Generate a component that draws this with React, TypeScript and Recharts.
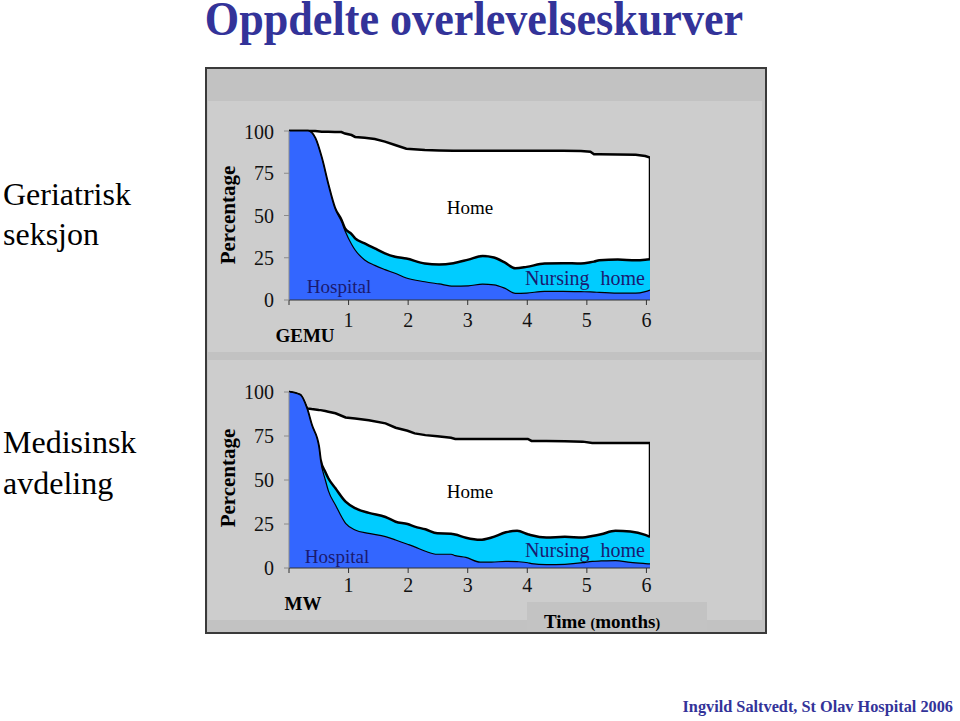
import React from 'react';
import { AreaChart, Area, XAxis, YAxis } from 'recharts';

// ---- GEMU (Geriatrisk seksjon) ----
const gemuMonths = [0, 0.32, 0.44, 0.55, 0.66, 0.77, 0.88, 0.94, 1.05, 1.11, 1.27, 1.44, 1.61, 1.78, 1.97, 2.28, 2.52, 2.76, 3.01, 3.25, 3.44, 3.62, 3.8, 3.99, 4.29, 4.6, 4.9, 5.06, 5.12, 5.21, 5.52, 5.82, 5.98, 6.06];
const gemuHospital = [100, 100, 95.7, 83.8, 68, 54.2, 46.4, 41, 33, 29.6, 23.7, 20.5, 18, 15.8, 13, 10.8, 9.5, 8.2, 8.4, 9.4, 9, 7, 3.9, 4.1, 5.1, 5.1, 4.9, 4.8, 4.7, 4.5, 4.1, 4.1, 5, 5.9];
const gemuNursingHome = [100, 100, 95.7, 83.8, 68, 54.5, 47.5, 42.4, 39, 36.5, 33.5, 30.5, 27.6, 25.6, 24.5, 21.6, 21, 21.8, 23.9, 26, 25.1, 22.2, 18.8, 19.6, 21.6, 21.8, 21.6, 22.3, 22.7, 23.5, 23.9, 23.5, 23.8, 24.1];
const gemuAlive = [100, 100, 100, 99.6, 99.6, 99.4, 99.4, 98.5, 97.6, 96.5, 96, 95.3, 93.7, 91.7, 89.5, 88.8, 88.5, 88.3, 88.3, 88.3, 88.3, 88.3, 88.3, 88.3, 88.3, 88.3, 88.2, 87.7, 86.2, 86.2, 86.1, 86, 85.2, 84.3];

// ---- MW (Medisinsk avdeling) ----
const mwMonths = [0, 0.19, 0.3, 0.38, 0.5, 0.53, 0.61, 0.66, 0.78, 0.95, 1.11, 1.34, 1.62, 1.79, 1.99, 2.11, 2.29, 2.49, 2.72, 2.79, 2.97, 3.21, 3.4, 3.64, 3.83, 4.01, 4.07, 4.32, 4.63, 4.93, 5.09, 5.24, 5.48, 5.73, 5.98, 6.06];
const mwHospital = [100, 98.3, 90.7, 81.3, 69, 61, 50, 44, 35.8, 25.4, 21.6, 19.7, 17.8, 15.9, 13.5, 12, 9.5, 7.8, 7.8, 7, 6, 3.3, 3.3, 3.8, 3.6, 3, 2.5, 1.9, 2.1, 3, 3.8, 4, 4.2, 3.2, 2.5, 2.3];
const mwNursingHome = [100, 98.3, 90.7, 81.3, 69, 61.5, 54.5, 51, 45.3, 37.7, 34, 31.3, 29, 26.3, 25, 23.5, 22, 19.7, 19.5, 19, 17.2, 16, 17.3, 20.3, 21.1, 19.2, 18.6, 17.3, 17.7, 17.3, 18.2, 19.2, 21.1, 20.7, 18.8, 17.7];
const mwAlive = [100, 98.3, 90.7, 90.3, 89.8, 89.7, 89.2, 88.8, 87.9, 85.5, 85, 84, 82.2, 79.7, 78, 76.5, 75.5, 74.8, 74, 73.3, 73.3, 73.3, 73.3, 73.3, 73.3, 73.3, 72.2, 72.2, 72, 71.8, 71, 71, 71, 71, 71, 71];

const monthTicks = [0, 1, 2, 3, 4, 5, 6];
const percentTicks = [0, 25, 50, 75, 100];

type Row = { m: number; hospital: number | null; nursing: number | null; alive: number };

function buildRows(months: number[], hosp: number[], nurs: number[], alive: number[]): Row[] {
  const rows: Row[] = months.map((m, i) => ({ m, hospital: hosp[i], nursing: nurs[i], alive: alive[i] }));
  const last = rows[rows.length - 1];
  // closing edge of the "Home" band at the end of follow-up
  rows.push({ m: last.m, hospital: null, nursing: null, alive: last.nursing as number });
  return rows;
}

const SERIF = '"Liberation Serif", "Times New Roman", serif';

const T = ({ x, y, size, children, style, align = 'center' }: any) => (
  <div
    style={{
      position: 'absolute',
      left: x,
      top: y,
      transform: align === 'center' ? 'translate(-50%,-50%)' : 'translate(0,-50%)',
      fontSize: size,
      lineHeight: 1,
      whiteSpace: 'pre',
      fontFamily: SERIF,
      color: '#000',
      ...style,
    }}
  >
    {children}
  </div>
);

function Panel({ rows, top, height, marginTop, tickMargin }: any) {
  const tickStyle = { fill: '#111', fontSize: 20, fontFamily: SERIF };
  return (
    <div style={{ position: 'absolute', left: 230, top }}>
      <AreaChart width={430} height={height} data={rows} margin={{ top: marginTop, right: 10, bottom: 5, left: 0 }}>
        <XAxis
          dataKey="m"
          type="number"
          domain={[0, 6.06]}
          ticks={monthTicks}
          tickFormatter={(v: number) => (v === 0 ? '' : String(v))}
          allowDataOverflow
          stroke="#333"
          tick={tickStyle}
          tickSize={5}
          tickMargin={tickMargin}
          height={30}
        />
        <YAxis
          type="number"
          domain={[0, 100]}
          ticks={percentTicks}
          width={59}
          tickSize={5}
          tickMargin={10}
          stroke="#8a8a8a"
          tick={tickStyle}
        />
        <Area dataKey="alive" type="linear" fill="#ffffff" fillOpacity={1} stroke="#000" strokeWidth={2.5} isAnimationActive={false} dot={false} activeDot={false} />
        <Area dataKey="nursing" type="monotone" fill="#00ccff" fillOpacity={1} stroke="#000" strokeWidth={2.5} isAnimationActive={false} dot={false} activeDot={false} />
        <Area dataKey="hospital" type="monotone" fill="#3366ff" fillOpacity={1} stroke="#000" strokeWidth={1.2} isAnimationActive={false} dot={false} activeDot={false} />
      </AreaChart>
    </div>
  );
}

export default function App() {
  const gemuRows = buildRows(gemuMonths, gemuHospital, gemuNursingHome, gemuAlive);
  const mwRows = buildRows(mwMonths, mwHospital, mwNursingHome, mwAlive);
  const navy = '#333399';
  const labelBlue = '#1a1a70';
  return (
    <div style={{ position: 'absolute', left: 0, top: 0, width: 960, height: 721, background: '#fff', overflow: 'hidden', fontFamily: SERIF }}>
      <div
        style={{
          position: 'absolute',
          left: 474,
          top: 0,
          transform: 'translateX(-50%) scaleX(0.92)',
          fontSize: 48,
          lineHeight: '38px',
          whiteSpace: 'pre',
          fontFamily: SERIF,
          fontWeight: 'bold',
          color: navy,
        }}
      >
        Oppdelte overlevelseskurver
      </div>

      <T x={3} y={194} size={32} align="left">Geriatrisk</T>
      <T x={3} y={234} size={32} align="left">seksjon</T>
      <T x={3} y={442} size={32} align="left">Medisinsk</T>
      <T x={3} y={483} size={32} align="left">avdeling</T>

      {/* frame */}
      <div style={{ position: 'absolute', left: 205, top: 67, width: 558, height: 563, background: '#c2c2c2', border: '2px solid #3a3a3a' }} />
      <div style={{ position: 'absolute', left: 208, top: 101, width: 554, height: 251, background: '#cdcdcd' }} />
      <div style={{ position: 'absolute', left: 208, top: 360, width: 554, height: 260, background: '#cdcdcd' }} />
      <div style={{ position: 'absolute', left: 527, top: 602, width: 180, height: 29, background: '#c3c3c3' }} />

      <T x={228} y={215} size={21} style={{ fontWeight: 'bold', transform: 'translate(-50%,-50%) rotate(-90deg)' }}>Percentage</T>
      <T x={228} y={478} size={21} style={{ fontWeight: 'bold', transform: 'translate(-50%,-50%) rotate(-90deg)' }}>Percentage</T>

      <Panel rows={gemuRows} top={120} height={215} marginTop={11} tickMargin={8} />
      <Panel rows={mwRows} top={380} height={223} marginTop={12} tickMargin={5} />

      <T x={470} y={207} size={19}>Home</T>
      <T x={339} y={286} size={19} style={{ color: labelBlue }}>Hospital</T>
      <T x={585} y={278} size={20} style={{ color: labelBlue, wordSpacing: 6 }}>Nursing home</T>
      <T x={305} y={335} size={19} style={{ fontWeight: 'bold' }}>GEMU</T>

      <T x={470} y={491} size={19}>Home</T>
      <T x={337} y={556} size={19} style={{ color: labelBlue }}>Hospital</T>
      <T x={585} y={550} size={20} style={{ color: labelBlue, wordSpacing: 6 }}>Nursing home</T>
      <T x={303} y={603} size={19} style={{ fontWeight: 'bold' }}>MW</T>
      <T x={602} y={621} size={19} style={{ fontWeight: 'bold' }}>
        Time <span style={{ fontSize: 14 }}>(</span>months<span style={{ fontSize: 14 }}>)</span>
      </T>

      <T x={953} y={707} size={16.3} style={{ color: navy, fontWeight: 'bold', transform: 'translate(-100%,-50%)' }}>Ingvild Saltvedt, St Olav Hospital 2006</T>
    </div>
  );
}
